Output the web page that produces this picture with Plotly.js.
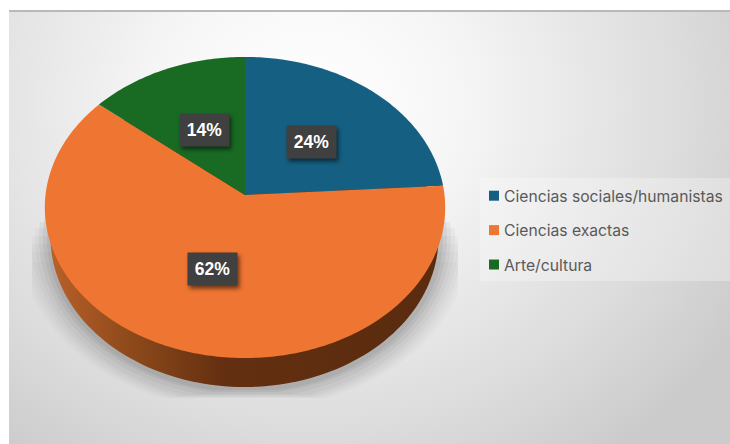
<!DOCTYPE html>
<html><head><meta charset="utf-8">
<script src="https://cdn.plot.ly/plotly-3.0.1.min.js"></script>
<style>
html,body{margin:0;padding:0;background:#fff;width:730px;height:444px;overflow:hidden}
#panel{position:absolute;left:9px;top:10px;width:721px;height:434px;box-sizing:border-box;border-top:2px solid #b9b9b9;
background:radial-gradient(ellipse 500px 440px at 300px 90px,#ffffff 0%,#f6f6f6 30%,#dcdcdc 75%,#cbcbcb 100%)}
#chart{position:absolute;left:0;top:0;width:730px;height:444px}
.annotation rect.bg{filter:drop-shadow(2px 3px 2px rgba(0,0,0,.55))}
</style></head><body>
<div id="panel"></div><div id="chart"></div>
<script>
const categories=['Ciencias sociales/humanistas','Ciencias exactas','Arte/cultura'];
const values=[24,62,14];
const colors=['#156082','#ee7532','#196b24'];
const labels=['24%','62%','14%'];

// projected disc geometry
const apexX=245, apexY=195, scaleX=199.5, scaleY=149.5, persp=0.083;
function project(turn,f){
  const a=turn*2*Math.PI, x=Math.sin(a)*f, y=Math.cos(a)*f, d=1+persp*y;
  return [apexX+scaleX*x/d, apexY-scaleY*y/d];
}
function ellipse(cx,cy,rx,ry,clip){
  const xs=[],ys=[];
  for(let i=0;i<=180;i++){
    const a=i/180*2*Math.PI;
    let x=cx+rx*Math.cos(a), y=cy+ry*Math.sin(a);
    if(clip){x=Math.max(clip[0],Math.min(clip[1],x));y=Math.max(clip[2],Math.min(clip[3],y));}
    xs.push(x);ys.push(y);
  }
  return [xs,ys];
}
const traces=[];
// soft shadow behind the disc: [rx, ry, alpha, top clip, bottom clip]
[[226,172,0.02,262,398],[222,170,0.025,252,398],[218,168,0.03,244,397],[214,166,0.035,236,396],
 [210,164,0.045,228,395],[206,160,0.055,222,394],[202,156,0.07,216,392],[198,154,0.08,210,390]].forEach(s=>{
  const e=ellipse(245,238,s[0],s[1],[32,458,s[3],s[4]]);
  traces.push({type:'scatter',mode:'none',x:e[0],y:e[1],fill:'toself',fillcolor:'rgba(60,60,60,'+s[2]+')',showlegend:false,hoverinfo:'skip'});
});
// side wall
const wall=ellipse(244.5,237,194,150);
traces.push({type:'scatter',mode:'none',x:wall[0],y:wall[1],fill:'toself',showlegend:false,hoverinfo:'skip',
  fillgradient:{type:'horizontal',colorscale:[[0,'#b8602a'],[0.2,'#8f4a1b'],[0.45,'#632f10'],[1,'#5a2b0f']]}});
// slices
const total=values.reduce((a,b)=>a+b,0);
let cum=0;
const annotations=[];
values.forEach((v,i)=>{
  const xs=[apexX],ys=[apexY],start=cum/total,end=(cum+v)/total,n=Math.max(2,Math.round(v*4));
  for(let k=0;k<=n;k++){const p=project(start+(end-start)*k/n,1);xs.push(p[0]);ys.push(p[1]);}
  xs.push(apexX);ys.push(apexY);
  traces.push({type:'scatter',mode:'none',x:xs,y:ys,fill:'toself',fillcolor:colors[i],name:categories[i],showlegend:false,hoverinfo:'name'});
  const m=project((start+end)/2,0.5);
  annotations.push({x:m[0],y:m[1],xref:'x',yref:'y',text:'<b>'+labels[i]+'</b>',showarrow:false,width:47,height:30,
    bgcolor:'#404040',font:{family:'Liberation Sans',size:17.5,color:'#fff'}});
  cum+=v;
});
// legend entries
categories.forEach((c,i)=>traces.push({type:'scatter',mode:'markers',x:[null],y:[null],name:c,legendgroup:c,
  marker:{symbol:'square',size:10,color:colors[i]},hoverinfo:'skip'}));

const layout={width:730,height:444,margin:{l:0,r:0,t:0,b:0},paper_bgcolor:'rgba(0,0,0,0)',plot_bgcolor:'rgba(0,0,0,0)',
  xaxis:{range:[0,730],visible:false,fixedrange:true},
  yaxis:{range:[444,0],visible:false,fixedrange:true},
  shapes:[{type:'rect',xref:'x',yref:'y',x0:480,x1:730,y0:178,y1:281,fillcolor:'rgba(255,255,255,0.28)',line:{width:0},layer:'below'}],
  annotations:annotations,
  showlegend:true,
  legend:{x:464/730,xanchor:'left',y:1-179/444,yanchor:'top',bgcolor:'rgba(0,0,0,0)',borderwidth:0,tracegroupgap:11,
    font:{family:'Inter',size:15.7,color:'#595959'}}};
Plotly.newPlot('chart',traces,layout,{displayModeBar:false,staticPlot:true}).then(()=>{
  document.querySelectorAll('.legend .legendpoints').forEach(g=>g.setAttribute('transform','translate(10,0)'));
});
</script></body></html>
